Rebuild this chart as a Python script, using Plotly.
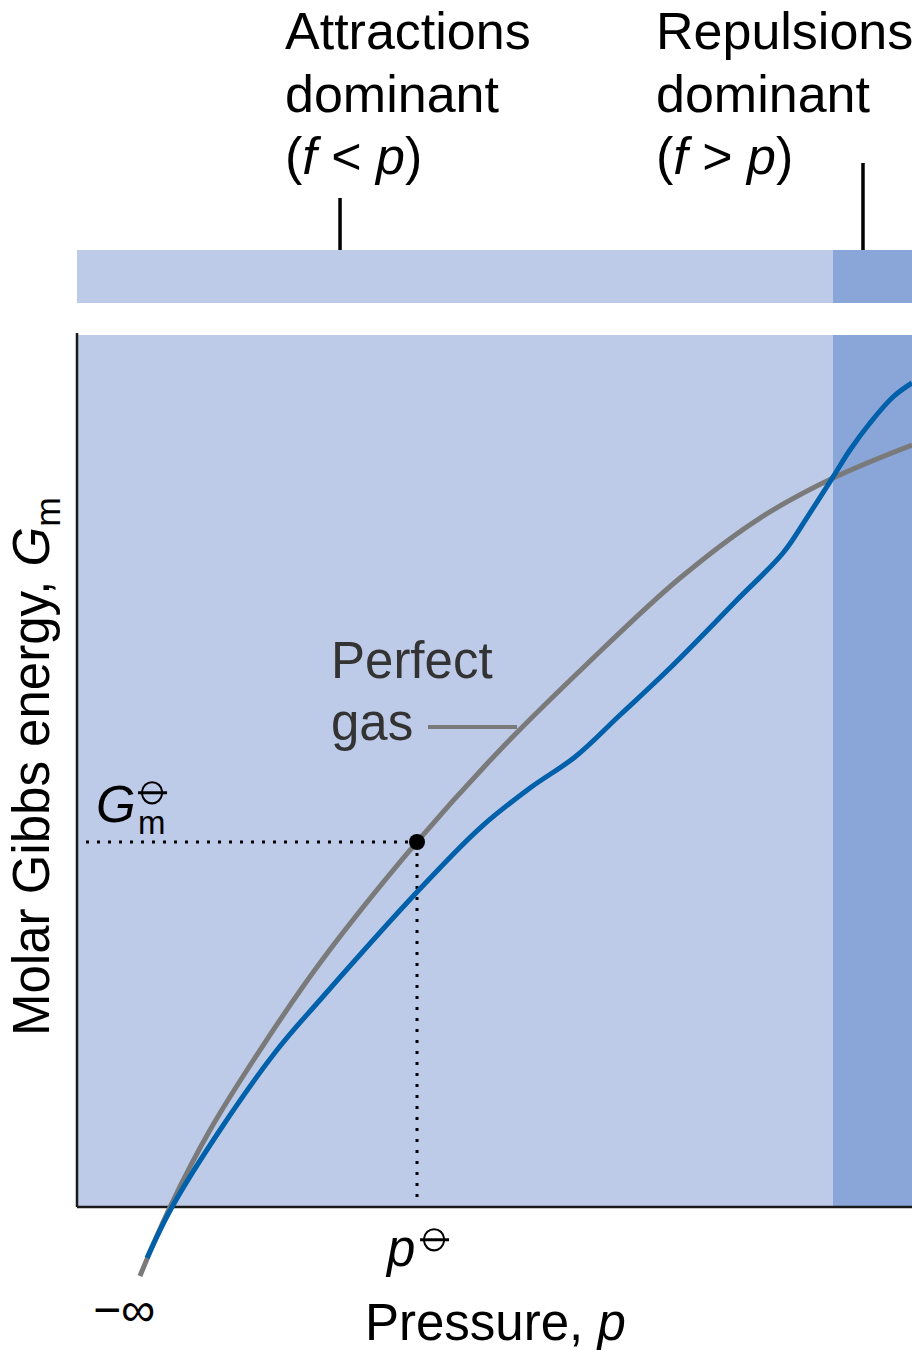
import plotly.graph_objects as go

# ---------------- data (arbitrary units: the plot box spans 0..10 on both axes) ----------------
perfect_p = [0.754, 1.114, 1.593, 2.192, 2.910, 4.072, 5.066, 6.108, 7.222, 8.180, 9.054, 10.0]
perfect_G = [-0.791, 0.0, 0.883, 1.800, 2.798, 4.186, 5.241, 6.227, 7.213, 7.901, 8.360, 8.739]

real_p = [0.838, 1.138, 1.713, 2.395, 2.910, 4.072, 4.826, 5.425, 5.964, 6.503, 7.102, 7.904,
          8.455, 8.754, 9.054, 9.257, 9.497, 9.772, 10.0]
real_G = [-0.585, 0.0, 0.883, 1.800, 2.374, 3.612, 4.346, 4.805, 5.161, 5.642, 6.181, 6.961,
          7.500, 7.924, 8.372, 8.681, 8.991, 9.289, 9.450]

p_std = 4.072          # standard pressure
G_std = 4.186          # standard molar Gibbs energy
p_repulsion = 9.054    # pressure above which repulsions dominate
p_max = 10.0
G_max = 10.0
attr_tick_p = 3.150
rep_tick_p = 9.413

region_labels = [["Attractions", "dominant", "(<i>f</i> &lt; <i>p</i>)"],
                 ["Repulsions", "dominant", "(<i>f</i> &gt; <i>p</i>)"]]

# ---------------- geometry / style ----------------
W, H = 912, 1350
X0, Y0 = 77, 1207
SX, SY = 83.5, 87.2


def px_x(px):
    return (px - X0) / SX


def px_y(py):
    return (Y0 - py) / SY


LIGHT = "#BDCBE8"
DARK = "#8AA6D8"
BLUE = "#0060AA"
GRAY = "#7A7A7A"
FONT = "Liberation Sans, Arial, Helvetica, sans-serif"
PLIMSOLL = "\u29B5"

fig = go.Figure()

# dotted reference lines
fig.add_trace(go.Scatter(x=[px_x(86), p_std], y=[G_std, G_std], mode="lines",
                         line=dict(color="black", width=3, dash="3px,8px"), hoverinfo="skip"))
fig.add_trace(go.Scatter(x=[p_std, p_std], y=[G_std, px_y(1198)], mode="lines",
                         line=dict(color="black", width=3, dash="3px,8px"), hoverinfo="skip"))

# perfect gas
fig.add_trace(go.Scatter(x=perfect_p, y=perfect_G, mode="lines",
                         line=dict(color=GRAY, width=5, shape="spline", smoothing=1.0),
                         hoverinfo="skip"))
# real gas
fig.add_trace(go.Scatter(x=real_p, y=real_G, mode="lines",
                         line=dict(color=BLUE, width=5, shape="spline", smoothing=1.0),
                         hoverinfo="skip"))
# standard state point
fig.add_trace(go.Scatter(x=[p_std], y=[G_std], mode="markers",
                         marker=dict(color="black", size=16), hoverinfo="skip"))

shapes = []
# main plot box
shapes.append(dict(type="rect", x0=0, x1=p_max, y0=0, y1=G_max, fillcolor=LIGHT,
                   line=dict(width=0), layer="below"))
shapes.append(dict(type="rect", x0=p_repulsion, x1=p_max, y0=0, y1=G_max, fillcolor=DARK,
                   line=dict(width=0), layer="below"))
# top bar
bar_y0, bar_y1 = px_y(303), px_y(250)
shapes.append(dict(type="rect", x0=0, x1=p_max, y0=bar_y0, y1=bar_y1, fillcolor=LIGHT,
                   line=dict(width=0), layer="below"))
shapes.append(dict(type="rect", x0=p_repulsion, x1=p_max, y0=bar_y0, y1=bar_y1, fillcolor=DARK,
                   line=dict(width=0), layer="below"))
# ticks on top bar
shapes.append(dict(type="line", x0=attr_tick_p, x1=attr_tick_p, y0=bar_y1, y1=px_y(198),
                   line=dict(color="black", width=3.5)))
shapes.append(dict(type="line", x0=rep_tick_p, x1=rep_tick_p, y0=bar_y1, y1=px_y(163),
                   line=dict(color="black", width=3.5)))
# axes
shapes.append(dict(type="line", x0=0, x1=0, y0=0, y1=px_y(333),
                   line=dict(color="#1a1a1a", width=2.5), layer="below"))
shapes.append(dict(type="line", x0=0, x1=p_max, y0=0, y1=0,
                   line=dict(color="#1a1a1a", width=2.5), layer="below"))
# leader line for "Perfect gas"
shapes.append(dict(type="line", x0=px_x(428), x1=px_x(517), y0=px_y(727), y1=px_y(727),
                   line=dict(color=GRAY, width=4)))

ann = []


def text(s, x, y, size=51, xanchor="left", yanchor="middle", color="black", angle=0, family=FONT):
    ann.append(dict(text=s, x=px_x(x), y=px_y(y), xref="x", yref="y", showarrow=False,
                    xanchor=xanchor, yanchor=yanchor, textangle=angle,
                    font=dict(family=family, size=size, color=color)))


for i, line in enumerate(region_labels[0]):
    text(line, 283, 31 + 62.5 * i, size=52)
for i, line in enumerate(region_labels[1]):
    text(line, 654, 31 + 62.5 * i, size=52)

text("Perfect", 329, 660, color="#333333")
text("gas", 329, 722, color="#333333")

text("<i>G</i>", 94, 804)
text(PLIMSOLL, 152, 785, size=54, xanchor="center")
text("m", 152, 822, size=33, xanchor="center")

text("<i>p</i>", 383, 1248)
text(PLIMSOLL, 434, 1232, size=54, xanchor="center")

text("\u2212\u221e", 124, 1309, size=48, xanchor="center")
text("Pressure, <i>p</i>", 495, 1322, xanchor="center")
text("Molar Gibbs energy, <i>G</i><sub>m</sub>", 35, 767, xanchor="center", angle=-90)

fig.update_layout(
    width=W, height=H, margin=dict(l=0, r=0, t=0, b=0),
    paper_bgcolor="white", plot_bgcolor="white", showlegend=False,
    xaxis=dict(range=[px_x(0), px_x(W)], visible=False, fixedrange=True),
    yaxis=dict(range=[px_y(H), px_y(0)], visible=False, fixedrange=True),
    shapes=shapes, annotations=ann,
)

fig.write_html("out.html", config={"displayModeBar": False},
               post_script="document.body.style.margin='0';document.body.style.overflow='hidden';")
